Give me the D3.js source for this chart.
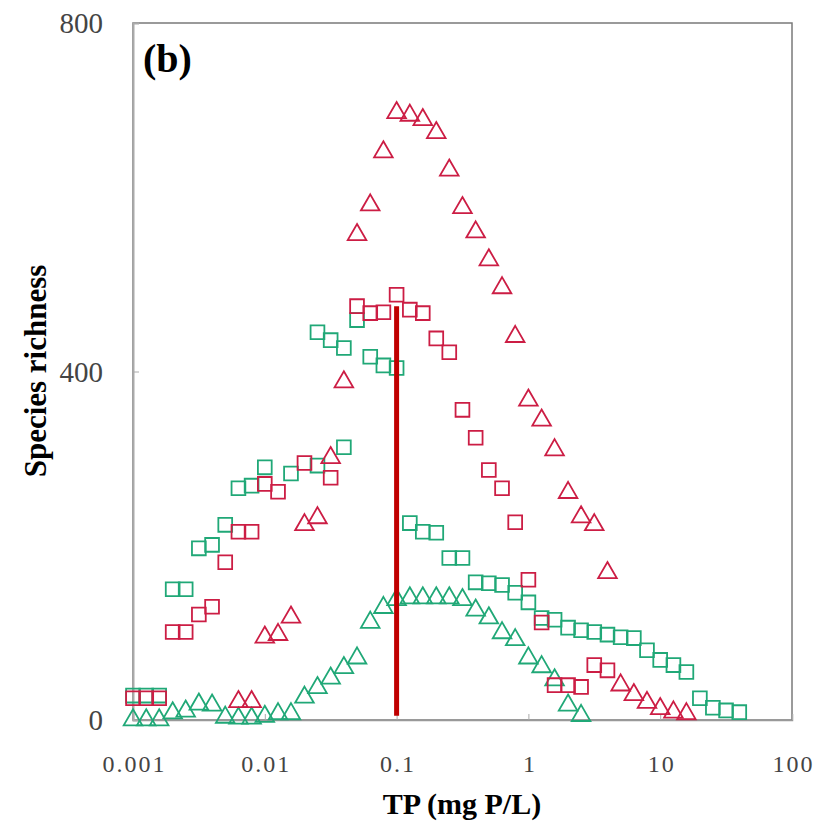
<!DOCTYPE html>
<html>
<head>
<meta charset="utf-8">
<script src="https://cdn.jsdelivr.net/npm/d3@7"></script>
<style>
  body { margin: 0; background: #fff; }
  text { font-family: "Liberation Serif", "Times New Roman", serif; }
</style>
</head>
<body>
<script>
// Species richness vs TP, four series
var redTriTP = [0.00631, 0.00794, 0.01, 0.0126, 0.0158, 0.02, 0.0251, 0.0316, 0.0398, 0.0501,
    0.0631, 0.0794, 0.1, 0.126, 0.158, 0.2, 0.251, 0.316, 0.398, 0.501,
    0.631, 0.794, 1, 1.26, 1.58, 2, 2.51, 3.16, 3.98, 5.01,
    6.31, 7.94, 10, 12.6, 15.8];
var redTriRich = [21, 21, 95, 98, 118, 224, 232, 301, 388, 557,
    591, 652, 697, 694, 689, 674, 631, 588, 560, 528,
    496, 440, 367, 344, 310, 261, 233, 224, 169, 40,
    29, 20, 13, 9, 7];

var redSqTP = [0.001, 0.00126, 0.00158, 0.002, 0.00251, 0.00316, 0.00398, 0.00501, 0.00631, 0.00794,
    0.01, 0.0126, 0.02, 0.0316, 0.0501, 0.0631, 0.0794, 0.1, 0.126, 0.158,
    0.2, 0.251, 0.316, 0.398, 0.501, 0.631, 0.794, 1, 1.26, 1.58,
    2, 2.51, 3.16, 3.98];
var redSqRich = [25, 25, 25, 101, 101, 121, 130, 181, 216, 216,
    271, 262, 295, 278, 475, 467, 468, 488, 471, 467,
    438, 422, 356, 324, 287, 266, 227, 161, 112, 40,
    40, 38, 63, 57];

var greenSqTP = [0.001, 0.00126, 0.00158, 0.002, 0.00251, 0.00316, 0.00398, 0.00501, 0.00631, 0.00794,
    0.01, 0.0158, 0.0251, 0.0398, 0.0251, 0.0316, 0.0398, 0.0501, 0.0631, 0.0794,
    0.1, 0.126, 0.158, 0.2, 0.251, 0.316, 0.398, 0.501, 0.631, 0.794,
    1, 1.26, 1.58, 2, 2.51, 3.16, 3.98, 5.01, 6.31, 7.94,
    10, 12.6, 15.8, 20, 25.1, 31.6, 39.8];
var greenSqRich = [28, 28, 28, 150, 150, 197, 201, 224, 266, 269,
    290, 283, 292, 313, 445, 436, 427, 459, 417, 407,
    404, 226, 216, 215, 186, 186, 158, 157, 155, 146,
    135, 117, 115, 106, 103, 101, 98, 95, 94, 80,
    69, 63, 55, 25, 14, 11, 9];

var greenTriTP = [0.001, 0.00126, 0.00158, 0.002, 0.00251, 0.00316, 0.00398, 0.00501, 0.00631, 0.00794,
    0.01, 0.0126, 0.0158, 0.02, 0.0251, 0.0316, 0.0398, 0.0501, 0.0631, 0.0794,
    0.1, 0.126, 0.158, 0.2, 0.251, 0.316, 0.398, 0.501, 0.631, 0.794,
    1, 1.26, 1.58, 2, 2.51];
var greenTriRich = [0, 0, 0, 8, 10, 18, 17, 3, 2, 2,
    4, 7, 7, 26, 37, 48, 60, 71, 112, 129,
    138, 140, 140, 140, 140, 138, 126, 117, 100, 92,
    71, 61, 46, 17, 5];

// vertical reference line at TP = 0.1
var refLineTP = 0.1;
var refLineRich = [5, 475];

var xTicks = [0.001, 0.01, 0.1, 1, 10, 100];
var xTickLabels = ["0.001", "0.01", "0.1", "1", "10", "100"];
var yTicks = [0, 400, 800];

var red = "#cc1d44", green = "#20a877";

var svg = d3.select("body").append("svg")
    .attr("width", 819)
    .attr("height", 824);

var x = d3.scaleLog().domain([0.001, 100]).range([133, 792]);
var y = d3.scaleLinear().domain([0, 800]).range([720, 23]);

// frame
svg.append("rect")
    .attr("x", 133).attr("y", 23)
    .attr("width", 792 - 133).attr("height", 720 - 23)
    .attr("fill", "none")
    .attr("stroke", "#7a7a7a")
    .attr("stroke-width", 1.5);

// x axis
var xAxis = svg.append("g")
    .attr("transform", "translate(0,720)")
    .call(d3.axisBottom(x).tickValues(xTicks).tickSize(-6)
        .tickFormat(function(d, i){ return xTickLabels[i]; }));
xAxis.select(".domain").attr("stroke", "#999").attr("stroke-width", 1.5);
xAxis.selectAll(".tick line").attr("stroke", "#aaa");
xAxis.selectAll(".tick text")
    .attr("y", 52).attr("dy", 0).attr("dx", 1)
    .attr("fill", "#444")
    .style("font-size", "24px")
    .style("letter-spacing", "2px")
    .style("font-family", "Liberation Serif, serif");

// y axis
var yAxis = svg.append("g")
    .attr("transform", "translate(133,0)")
    .call(d3.axisLeft(y).tickValues(yTicks).tickSize(-6));
yAxis.select(".domain").attr("stroke", "#aaa").attr("stroke-width", 2);
yAxis.selectAll(".tick line").attr("stroke", "#aaa");
yAxis.selectAll(".tick text")
    .attr("x", -30).attr("dy", "0.34em")
    .attr("fill", "#444")
    .style("font-size", "29px")
    .style("font-family", "Liberation Serif, serif");

// markers
var tri = d3.symbol().type(d3.symbolTriangle).size(150);
var sq = d3.symbol().type(d3.symbolSquare).size(190);

function drawSeries(tp, rich, sym, color, cls) {
    svg.selectAll("." + cls)
        .data(tp.map(function(d, i){ return { tp: d, rich: rich[i] }; }))
        .enter()
        .append("path")
        .attr("class", cls)
        .attr("d", sym)
        .attr("transform", function(d){ return "translate(" + x(d.tp) + "," + y(d.rich) + ")"; })
        .attr("fill", "none")
        .attr("stroke", color)
        .attr("stroke-width", 1.8);
}

drawSeries(greenTriTP, greenTriRich, tri, green, "gtri");
drawSeries(greenSqTP, greenSqRich, sq, green, "gsq");
drawSeries(redSqTP, redSqRich, sq, red, "rsq");
drawSeries(redTriTP, redTriRich, tri, red, "rtri");

// reference line
svg.append("line")
    .attr("x1", x(refLineTP)).attr("x2", x(refLineTP))
    .attr("y1", y(refLineRich[0])).attr("y2", y(refLineRich[1]))
    .attr("stroke", "#c00000")
    .attr("stroke-width", 5);

// labels
svg.append("text")
    .attr("x", 143).attr("y", 72)
    .style("font-size", "40px")
    .style("font-weight", "bold")
    .text("(b)");

svg.append("text")
    .attr("x", 462).attr("y", 814)
    .attr("text-anchor", "middle")
    .style("font-size", "30px")
    .style("font-weight", "bold")
    .text("TP (mg P/L)");

svg.append("text")
    .attr("transform", "translate(46,371) rotate(-90)")
    .attr("text-anchor", "middle")
    .style("font-size", "31px")
    .style("font-weight", "bold")
    .text("Species richness");
</script>
</body>
</html>
